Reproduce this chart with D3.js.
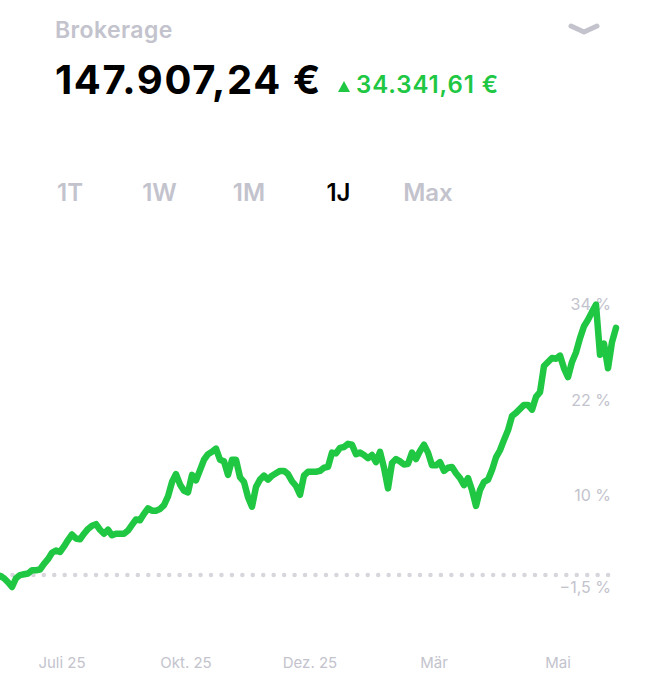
<!DOCTYPE html>
<html>
<head>
<meta charset="utf-8">
<script src="https://cdn.jsdelivr.net/npm/d3@7"></script>
<style>
  html, body { margin: 0; padding: 0; background: #fff; }
  svg { display: block; font-family: Inter, "Noto Sans", sans-serif; }
</style>
</head>
<body>
<svg id="chart" width="668" height="680"></svg>
<script>
// ---- data ----
const title = "Brokerage";
const totalValue = "147.907,24 €";
const changeValue = "34.341,61 €";
const periods = ["1T", "1W", "1M", "1J", "Max"];
const activePeriod = "1J";
const monthLabels = ["Juli 25", "Okt. 25", "Dez. 25", "Mär", "Mai"];
const yTicks = [34, 22, 10, -1.5];
// performance in % (roughly evenly spaced samples over the year)
const returns = [
  -0.1,-0.4,-0.9,-1.5,-0.4,0,0.1,0.2,0.6,0.6,
  0.7,1.4,2.0,2.8,3.1,2.9,3.6,4.4,5.1,4.6,
  4.5,5.2,5.8,6.2,6.4,5.7,5.2,5.7,5.0,5.2,
  5.2,5.2,5.6,6.3,7.0,6.9,7.7,8.4,8.1,8.1,
  8.3,8.8,9.9,11.7,12.7,11.4,10.6,10.4,12.6,11.9,
  13.2,14.5,15.2,15.5,15.9,14.5,14.3,12.6,14.5,14.5,
  12.3,11.7,9.8,8.6,11.1,12.0,12.5,12.0,12.5,12.8,
  13.1,13.1,12.7,11.8,11.2,10.1,12.5,13.0,13.0,13.0,
  13.1,13.5,13.6,15.4,15.3,16.0,16.1,16.5,16.4,15.2,
  15.4,15.1,14.7,15.1,14.2,15.5,13.5,10.9,14.1,14.6,
  14.3,13.9,14.0,15.4,14.6,15.6,16.4,15.4,13.8,13.8,
  14.2,13.1,13.5,13.6,12.8,12.2,11.3,12.2,10.7,8.7,
  10.7,11.7,12.0,13.2,14.8,15.7,17.0,18.2,20.0,20.4,
  20.9,21.4,21.4,20.8,22.4,23.0,26.3,26.8,27.3,27.2,
  27.6,26.0,24.9,26.8,28.0,29.8,31.3,32.1,33.1,34.0,
  27.7,29.1,26.0,29.3,31.1
];

// ---- styles ----
const GREEN = "#20c743";
const GREY = "#c3c3cd";

const svg = d3.select("#chart");

// header
svg.append("text").attr("x", 55).attr("y", 38)
  .attr("font-size", 23).attr("font-weight", 600).attr("fill", GREY)
  .attr("letter-spacing", 0.4)
  .text(title);

svg.append("path")
  .attr("d", d3.line()([[571, 26], [584, 32], [597, 26]]))
  .attr("fill", "none").attr("stroke", GREY).attr("stroke-width", 5)
  .attr("stroke-linecap", "round").attr("stroke-linejoin", "round");

svg.append("text").attr("x", 55).attr("y", 94)
  .attr("font-size", 40).attr("font-weight", 700).attr("fill", "#000")
  .attr("letter-spacing", 1.6)
  .text(totalValue);

svg.append("path")
  .attr("d", d3.line()([[338, 92], [344, 81], [350, 92]]) + "Z")
  .attr("fill", GREEN);
svg.append("text").attr("x", 356).attr("y", 93)
  .attr("font-size", 24).attr("font-weight", 600).attr("fill", GREEN)
  .attr("letter-spacing", 0.9)
  .text(changeValue);

// period tabs
const tabX = d3.scalePoint().domain(periods).range([70, 428]);
svg.append("g").selectAll("text").data(periods).join("text")
  .attr("x", d => tabX(d)).attr("y", 201)
  .attr("text-anchor", "middle")
  .attr("font-size", 24).attr("font-weight", 600)
  .attr("fill", d => d === activePeriod ? "#000" : GREY)
  .text(d => d);

// scales
const x = d3.scaleLinear().domain([0, returns.length - 1]).range([0, 616]);
const y = d3.scaleLinear().domain([-1.5, 34]).range([587, 304.7]);
const xm = d3.scalePoint().domain(monthLabels).range([0, 620]).padding(0.5);

// zero baseline (dotted)
svg.append("line")
  .attr("x1", 2).attr("x2", 612).attr("y1", y(0)).attr("y2", y(0))
  .attr("stroke", "#d6d6dc").attr("stroke-width", 4.5)
  .attr("stroke-linecap", "round").attr("stroke-dasharray", "0 10.45");

// right axis labels
const fmt = v => d3.format(",")(v).replace(".", ",") + " %";
svg.append("g").selectAll("text").data(yTicks).join("text")
  .attr("x", 611).attr("y", d => y(d)).attr("dy", "0.36em")
  .attr("text-anchor", "end").attr("font-size", 16).attr("fill", GREY)
  .text(d => fmt(d));

// month labels
svg.append("g").selectAll("text").data(monthLabels).join("text")
  .attr("x", d => xm(d)).attr("y", 668)
  .attr("text-anchor", "middle").attr("font-size", 15).attr("fill", GREY)
  .text(d => d);

// performance line
svg.append("path")
  .datum(returns)
  .attr("d", d3.line().x((d, i) => x(i)).y(d => y(d)))
  .attr("fill", "none").attr("stroke", GREEN).attr("stroke-width", 6.5)
  .attr("stroke-linejoin", "round").attr("stroke-linecap", "round");
</script>
</body>
</html>
